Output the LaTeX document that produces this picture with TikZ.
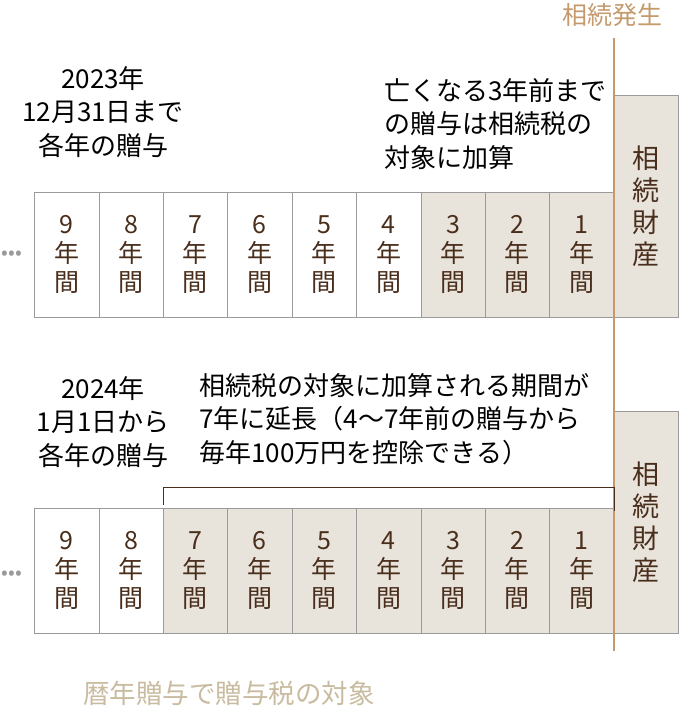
\documentclass[tikz,border=0pt]{standalone}
\usepackage{fontspec}
\setmainfont{Noto Sans CJK JP}
\definecolor{tan}{HTML}{C49A6C}
\definecolor{shade}{HTML}{E8E4DC}
\definecolor{ink}{HTML}{4A2E1C}
\definecolor{frame}{HTML}{9A9A9A}
\definecolor{pale}{HTML}{C8BBA0}
\tikzset{
  year/.style={draw=frame, fill=white, minimum width=64.4pt, minimum height=125pt,
    inner sep=0pt, text=ink, font=\fontsize{25}{29}\selectfont, align=center},
  past/.style={year, fill=shade},
  estate/.style={draw=frame, fill=shade, minimum width=64pt, inner sep=0pt,
    text=ink, font=\fontsize{27}{32}\selectfont, align=center},
  note/.style={font=\fontsize{26}{33.5}\selectfont, text=black}
}
\begin{document}
\begin{tikzpicture}[x=1pt,y=-1pt]
\useasboundingbox (0,0) rectangle (681,710);

% top row: 3 years
\foreach \n in {1,...,9} {
  \pgfmathsetmacro{\cx}{614-(\n-0.5)*64.4}
  \ifnum\n<4 \def\sty{past}\else\def\sty{year}\fi
  \node[\sty] (t\n) at (\cx,254.5) {\n\\年\\間};
}
\node[estate, minimum height=222pt] (tE) at (646,206) {相\\続\\財\\産};

% bottom row: 7 years
\foreach \n in {1,...,9} {
  \pgfmathsetmacro{\cx}{614-(\n-0.5)*64.4}
  \ifnum\n<8 \def\sty{past}\else\def\sty{year}\fi
  \node[\sty] (b\n) at (\cx,570.5) {\n\\年\\間};
}
\node[estate, minimum height=222pt] (bE) at (646,522) {相\\続\\財\\産};

% death line
\coordinate (lt) at (614,38);
\coordinate (lb) at (614,651);
\draw[tan, line width=2.5pt] (lt) -- (lb);
\node[tan, font=\fontsize{25}{27}\selectfont] (death) at (612,15) {相続発生};

% bracket
\draw[ink, line width=0.8pt] (b7.north west) ++(0,-3) -- ++(0,-17) -| ([yshift=-3pt]b1.north east);

% dots
\node[frame, font=\fontsize{20}{20}\selectfont] (dt) at (12,255) {•••};
\node[frame, font=\fontsize{20}{20}\selectfont] (db) at (12,575) {•••};

% notes
\node[note, align=center] (n1) at (103,112) {2023年\\12月31日まで\\各年の贈与};
\node[note, align=left, anchor=west] (n2) at (381,124) {亡くなる3年前まで\\の贈与は相続税の\\対象に加算};
\node[note, align=center] (n3) at (103,422) {2024年\\1月1日から\\各年の贈与};
\node[note, align=left, anchor=west] (n4) at (196,419) {相続税の対象に加算される期間が\\7年に延長（4〜7年前の贈与から\\毎年100万円を控除できる）};
\node[pale, font=\fontsize{26.5}{28}\selectfont] (n5) at (229,693) {暦年贈与で贈与税の対象};
\end{tikzpicture}
\end{document}
